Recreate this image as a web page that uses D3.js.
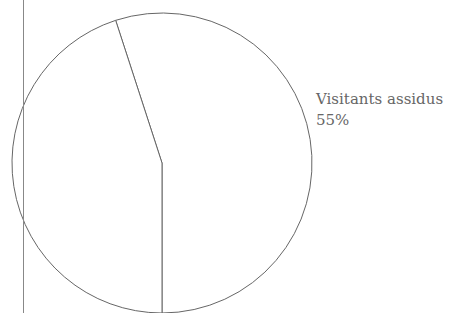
<!DOCTYPE html>
<html>
<head>
<meta charset="utf-8">
<script src="https://cdn.jsdelivr.net/npm/d3@7"></script>
<style>
  body { margin: 0; background: #fff; }
  text { font-family: "DejaVu Serif", serif; fill: #666; }
</style>
</head>
<body>
<div id="chart"></div>
<script>
// Our canvas
const width = 449,
  height = 313

// data
const categories = ['Visitants assidus', 'Autres']
const values = [55, 45]
const labels = ['Visitants assidus', '55%']

const cx = 162, cy = 163, radius = 150

let svg = d3.select('#chart')
  .append('svg')
  .attr('width', width)
  .attr('height', height)

let g = svg.append('g')
  .attr('transform', `translate(${cx}, ${cy})`)

// slices start a little left of 12 o'clock
const pie = d3.pie()
  .sort(null)
  .startAngle(-0.1 * Math.PI)
  .endAngle(1.9 * Math.PI)

const arc = d3.arc()
  .innerRadius(0)
  .outerRadius(radius)

g.selectAll('path')
  .data(pie(values))
  .enter()
  .append('path')
  .attr('d', arc)
  .attr('fill', '#fff')
  .attr('stroke', '#666')
  .attr('stroke-width', 1)

// leader of the hidden label, left side
svg.append('line')
  .attr('x1', cx - radius + 11.5).attr('x2', cx - radius + 11.5)
  .attr('y1', 0).attr('y2', height)
  .attr('stroke', '#888')
  .attr('stroke-width', 1)

// label of the first slice
let label = svg.append('text')
  .attr('x', cx + radius + 4)
  .attr('y', cy - 59)
  .style('font-size', '15px')

label.selectAll('tspan')
  .data(labels)
  .enter()
  .append('tspan')
  .attr('x', cx + radius + 4)
  .attr('dy', (d, i) => i ? 21 : 0)
  .text(d => d)
</script>
</body>
</html>
